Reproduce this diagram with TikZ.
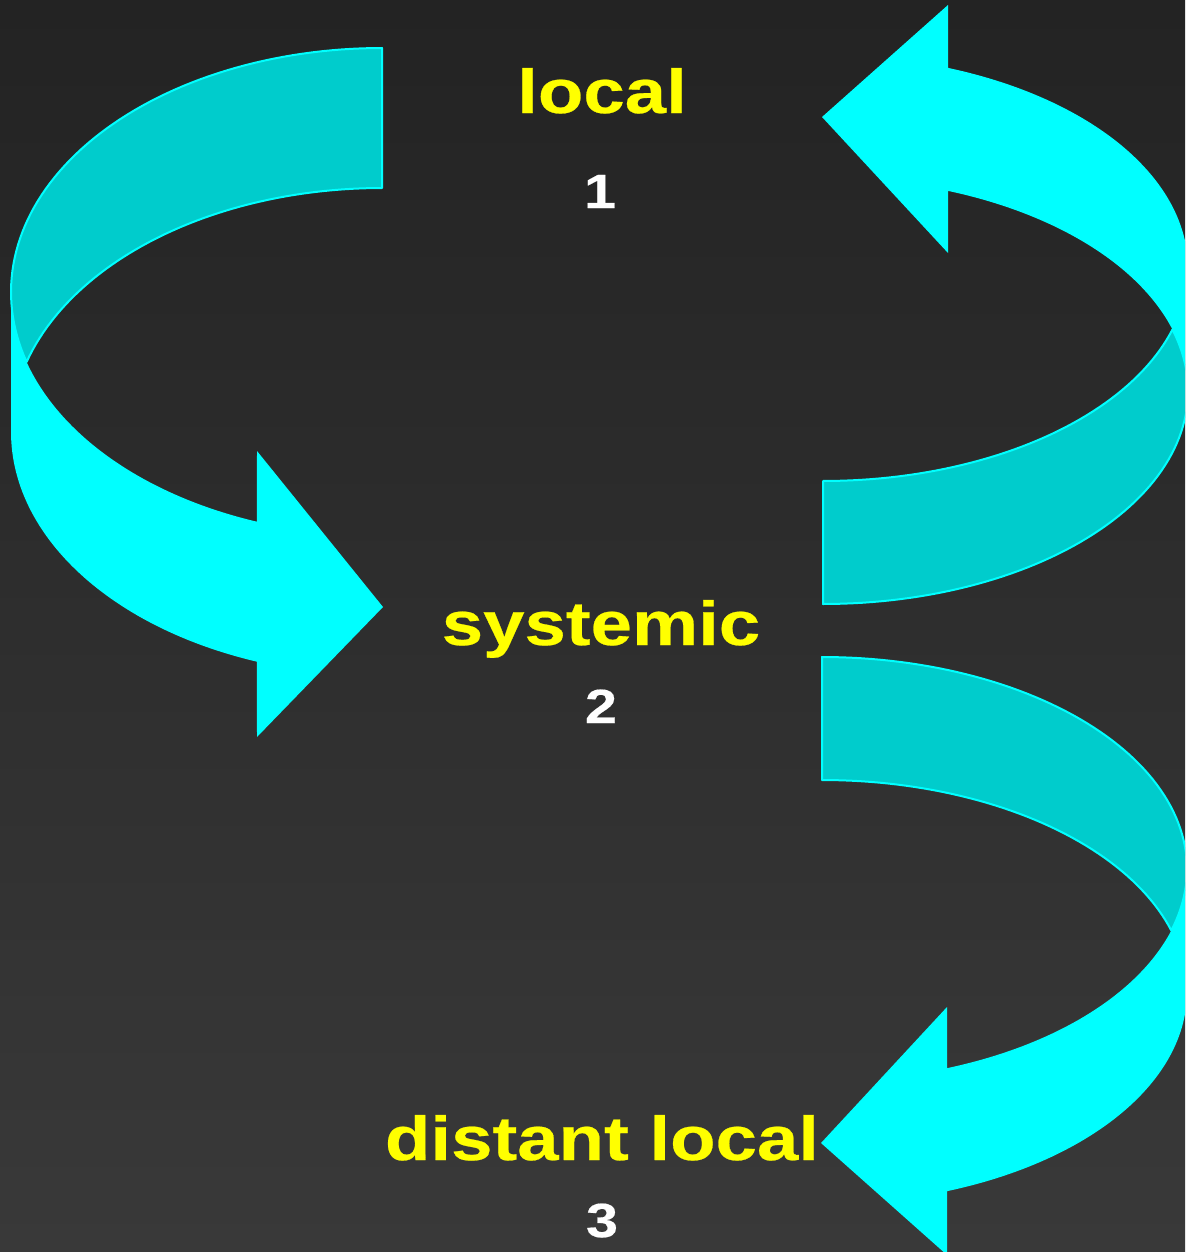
\documentclass[tikz,border=0pt]{standalone}
\usepackage{fontspec}
\setmainfont{Liberation Sans}
\newfontfamily\widebold{Liberation Sans Bold}[FakeStretch=1.2,FakeBold=0.4]
\begin{document}
\begin{tikzpicture}[x=0.5pt,y=-0.5pt]
\definecolor{bandfront}{HTML}{00FFFF}
\definecolor{bandback}{HTML}{00CCCC}
\definecolor{bgtop}{HTML}{232323}
\definecolor{bgbot}{HTML}{393939}
\definecolor{labelyellow}{HTML}{FFFF00}
\tikzset{
  bandfrontface/.style={fill=bandfront},
  bandbackface/.style={fill=bandback, draw=bandfront, line width=1pt, line join=round},
  levellabel/.style={text=labelyellow, font=\widebold\fontsize{31}{36}\selectfont, anchor=base, inner sep=0pt},
  levelnum/.style={text=white, font=\widebold\fontsize{24}{28}\selectfont, anchor=base, inner sep=0pt},
}
% background
\shade[top color=bgtop, bottom color=bgbot] (0,0) rectangle (1185,1252);
\useasboundingbox (0,0) rectangle (1185,1252);
\clip (0,0) rectangle (1185,1252);

% ---- left band: local -> systemic ----
\path[bandbackface]
  plot[variable=\t, domain=270:163.33, samples=70] ({382+371*cos(\t)},{292+244*sin(\t)})
  -- plot[variable=\t, domain=196.67:270, samples=50] ({382+371*cos(\t)},{432+244*sin(\t)})
  -- cycle;
\path[bandfrontface]
  (11,292) -- (11,432)
  -- plot[variable=\t, domain=180:109.7, samples=60] ({382+371*cos(\t)},{432+244*sin(\t)})
  -- (257,737) -- (383,607) -- (257,451)
  -- plot[variable=\t, domain=109.7:180, samples=60] ({382+371*cos(\t)},{292+244*sin(\t)})
  -- cycle;

% ---- upper right band: systemic -> local ----
\path[bandbackface]
  plot[variable=\t, domain=90:-16.78, samples=70] ({823+365*cos(\t)},{391+213*sin(\t)})
  -- plot[variable=\t, domain=16.78:90, samples=50] ({823+365*cos(\t)},{268+213*sin(\t)})
  -- cycle;
\path[bandfrontface]
  (1188,268)
  -- plot[variable=\t, domain=0:-69.97, samples=60] ({823+365*cos(\t)},{268+213*sin(\t)})
  -- (948,5) -- (822,117) -- (948,253)
  -- plot[variable=\t, domain=-69.97:0, samples=60] ({823+365*cos(\t)},{391+213*sin(\t)})
  -- cycle;

% ---- lower right band: systemic -> distant local ----
\path[bandbackface]
  plot[variable=\t, domain=-90:16.86, samples=70] ({822+365*cos(\t)},{869+212*sin(\t)})
  -- plot[variable=\t, domain=-16.86:-90, samples=50] ({822+365*cos(\t)},{992+212*sin(\t)})
  -- cycle;
\path[bandfrontface]
  (1187,869) -- (1187,992)
  -- plot[variable=\t, domain=0:69.97, samples=60] ({822+365*cos(\t)},{992+212*sin(\t)})
  -- (947,1255) -- (821,1143) -- (947,1007)
  -- plot[variable=\t, domain=69.97:0, samples=60] ({822+365*cos(\t)},{869+212*sin(\t)})
  -- cycle;

% ---- labels ----
\node[levellabel] (local) at (602,113) {local};
\node[levelnum] (n1) at (600,208) {1};
\node[levellabel] (systemic) at (601,645) {systemic};
\node[levelnum] (n2) at (601,723) {2};
\node[levellabel] (distant) at (602,1160) {distant local};
\node[levelnum] (n3) at (602,1237) {3};
\end{tikzpicture}
\end{document}
